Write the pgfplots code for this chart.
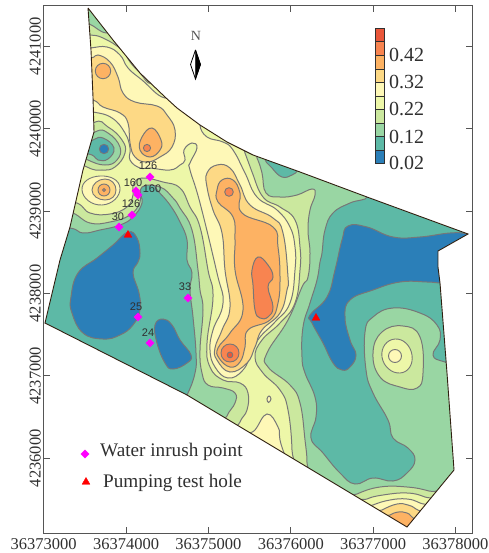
\documentclass[border=0pt]{standalone}
\usepackage{pgfplots}
\pgfplotsset{compat=1.18}
\usepackage{fontspec}
\setmainfont{Liberation Serif}
\newfontfamily\lab{Liberation Sans}
\definecolor{c0}{HTML}{2B7FB8}
\definecolor{c1}{HTML}{5DB9A6}
\definecolor{c2}{HTML}{99D6A3}
\definecolor{c3}{HTML}{CBE89E}
\definecolor{c4}{HTML}{EDF7A8}
\definecolor{c5}{HTML}{FEF8B7}
\definecolor{c6}{HTML}{FDD985}
\definecolor{c7}{HTML}{FDB263}
\definecolor{c8}{HTML}{F88450}
\definecolor{c9}{HTML}{E9563A}
\definecolor{cl}{HTML}{777777}
\definecolor{fr}{HTML}{555555}
\definecolor{tx}{HTML}{303030}
\definecolor{mg}{HTML}{FF00FF}
\definecolor{rd}{HTML}{FF0000}
\newcommand\reg[2]{\addplot[smooth cycle,tension=0.75,mark=none,fill=#1,draw=cl,line width=1pt] coordinates {#2};}
\newcommand\ring[2]{\addplot[smooth cycle,tension=1,mark=none,fill=#1,draw=cl,line width=0.9pt] coordinates {#2};}
\newcommand\cell[3]{\addplot[mark=none,fill=#1,draw=tx,line width=0.7pt] coordinates {(375.3,#2) (384,#2) (384,#3) (375.3,#3) (375.3,#2)};}
\begin{document}
\begin{tikzpicture}
\useasboundingbox (-43.3pt,-19.7pt) rectangle (444.7pt,533.3pt);
% grid of the digitised map: 82.35 units = 1000 m
\begin{axis}[at={(0,0)},anchor=south west,scale only axis,width=429pt,height=528pt,
 xmin=43.3,xmax=472.3,ymin=5.3,ymax=533.3,y dir=reverse,axis on top,
 axis line style={fr,line width=1pt},
 tick style={fr,line width=0.8pt},tick align=inside,major tick length=6.5pt,
 xtick={43.7,126.05,208.4,290.75,373.1,455.45},
 xticklabels={36373000,36374000,36375000,36376000,36377000,36378000},
 ytick={46.3,128.7,211,293.4,375.8,458.2},
 yticklabels={4241000,4240000,4239000,4238000,4237000,4236000},
 tick label style={font=\fontsize{16.5}{18}\selectfont,text=tx},
 xticklabel style={yshift=-1.5pt},
 yticklabel style={rotate=90,anchor=south,yshift=-1pt},
 clip=true]
% base
\addplot[mark=none,fill=c2,draw=none] coordinates {(43.3,5.3) (472.3,5.3) (472.3,533.3) (43.3,533.3) (43.3,5.3)};
% west low
\reg{c1}{(70,228) (83,233) (100,230) (120,225) (133,217) (142,203) (140,190) (150,182) (158,191) (170,205) (180,222) (187,240) (187,260) (192,273) (190,290) (193,317) (196,353) (195,373) (187,395) (175,415) (30,345) (35,225)}
\reg{c0}{(128,232) (137,238) (140,253) (138,262) (133,273) (139,293) (140,310) (133,325) (120,335) (103,339) (83,333) (72,313) (71,297) (78,273) (97,258) (113,245)}
\reg{c0}{(163,319) (155,325) (157,343) (165,363) (173,369) (187,363) (191,355) (180,340) (172,325)}
% east low
\reg{c1}{(355,185) (367,197) (350,203) (333,213) (325,230) (322,253) (320,262) (317,280) (310,303) (303,327) (302,357) (305,373) (315,397) (316,417) (311,438) (323,453) (340,473) (355,484) (373,478) (393,481) (407,473) (415,460) (408,448) (393,438) (388,420) (373,393) (366,370) (365,332) (373,317) (393,308) (420,313) (437,325) (440,340) (433,355) (445,362) (475,368) (485,235) (420,195)}
\reg{c0}{(348,226) (367,227) (393,237) (420,237) (450,233) (468,234) (490,240) (470,285) (440,283) (427,282) (400,282) (373,290) (350,300) (345,317) (350,340) (356,355) (350,367) (342,370) (333,363) (323,343) (312,323) (310,315) (327,297) (335,270) (342,240)}
\reg{c1}{(266,158) (272,168) (282,177) (292,175) (298,170) (303,160) (285,152)}
% lower-green and above
\reg{c3}{(70,20) (89,24) (107,33) (125,25) (200,100) (250,145) (257,158) (262,173) (266,193) (280,197) (297,195) (312,189) (315,195) (310,210) (308,230) (310,253) (308,277) (302,287) (288,320) (267,353) (268,367) (290,385) (300,403) (305,440) (307,463) (305,480) (225,430) (227,416) (235,403) (235,393) (223,388) (208,385) (202,373) (200,350) (203,310) (200,290) (198,270) (192,230) (180,208) (173,198) (160,187) (142,187) (140,202) (130,215) (110,222) (90,223) (73,213) (50,205) (60,120)}
\reg{c4}{(70,35) (89,35) (103,38) (122,50) (130,62) (140,73) (152,84) (170,75) (235,130) (245,153) (252,172) (263,197) (280,207) (295,220) (300,247) (300,270) (295,303) (280,323) (262,340) (255,357) (263,373) (280,390) (288,410) (292,450) (290,470) (235,440) (240,422) (247,410) (248,393) (240,383) (223,380) (210,367) (207,343) (213,297) (208,270) (200,227) (190,207) (180,188) (163,182) (142,178) (133,185) (133,195) (127,207) (110,214) (90,213) (77,203) (50,195) (60,120)}
\reg{c5}{(90,48) (107,47) (120,55) (128,68) (142,80) (165,98) (182,88) (205,115) (200,125) (207,137) (223,142) (233,150) (245,173) (257,197) (277,210) (290,227) (295,247) (295,270) (290,303) (275,322) (260,337) (253,350) (243,370) (228,378) (215,367) (210,350) (213,330) (223,303) (217,273) (200,203) (190,170) (190,163) (197,148) (192,143) (184,150) (185,160) (180,165) (170,170) (150,168) (140,168) (130,160) (130,148) (125,133) (112,118) (93,112) (70,110) (70,50)}
% north high
\reg{c6}{(91,58) (98,55) (110,62) (118,77) (123,93) (135,102) (157,106) (167,115) (175,130) (172,147) (160,157) (147,162) (135,157) (130,143) (128,123) (120,113) (103,107) (93,100) (70,95) (70,60)}
\ring{c7}{(103,63.3) (110.7,71) (103,78.7) (95.3,71)}
\reg{c7}{(152,128) (161,140) (160,150) (150,157) (140,150) (142,137)}
\ring{c8}{(147,144.4) (150.6,148) (147,151.6) (143.4,148)}
% central high
\reg{c6}{(207,173) (217,165) (230,168) (240,185) (250,205) (273,218) (283,233) (288,277) (287,290) (280,313) (262,330) (255,347) (247,363) (230,372) (217,360) (215,348) (222,330) (230,307) (225,270) (222,233) (213,210) (207,187)}
\reg{c7}{(217,190) (222,180) (233,180) (240,193) (242,213) (273,227) (278,247) (280,277) (278,303) (270,320) (248,330) (245,347) (240,362) (230,367) (219,358) (218,348) (230,333) (243,310) (235,270) (235,240) (233,217) (218,202)}
\reg{c8}{(258,257) (268,265) (273,277) (268,287) (273,307) (268,317) (260,318) (255,310) (253,285) (252,270)}
\ring{c8}{(229,187.7) (233.3,192) (229,196.3) (224.7,192)}
\ring{c8}{(230,344) (239,353) (230,362) (221,353)}
\ring{c9}{(230,352) (232.8,355) (230,357.8) (227.2,355)}
% north-west low
\reg{c3}{(93,123) (108,127) (122,140) (125,153) (115,167) (102,170) (87,167) (60,150)}
\reg{c2}{(95,132) (108,133) (120,147) (117,160) (105,165) (88,160) (72,150)}
\reg{c1}{(93,140) (103,138) (114,148) (108,159) (98,160) (92,155) (76,150)}
\ring{c0}{(104,144.3) (108.7,149) (104,153.7) (99.3,149)}
% west high
\ring{c5}{(82,190) (100,176) (120,188) (102,205)}
\ring{c6}{(92,190) (105,179) (116,190) (105,200)}
\ring{c7}{(104,184) (110,190) (104,196) (98,190)}
\ring{c8}{(104,188.5) (105.5,190) (104,191.5) (102.5,190)}
% south
\reg{c5}{(255,430) (267,414) (278,427) (280,440) (285,470) (245,440)}
\reg{c5}{(269,396) (271,399) (268.5,402.5) (267,399)}
% south tip
\reg{c3}{(350,500) (357,494) (380,487) (407,487) (429,491) (445,497) (410,545)}
\reg{c4}{(360,505) (367,499) (383,495) (407,493) (425,497) (440,505) (410,545)}
\reg{c5}{(365,510) (373,505) (390,500) (407,499) (420,503) (437,512) (410,545)}
\reg{c6}{(375,515) (382,510) (397,504) (408,505) (416,509) (430,520) (410,545)}
\reg{c7}{(382,520) (390,515) (398,512) (407,513) (412,517) (425,530) (408,545)}
% east hill
\reg{c3}{(403,326) (420,337) (423,373) (417,388) (400,387) (380,377) (373,353) (382,332)}
\ring{c4}{(395,339) (412,355) (400,373) (382,357)}
\ring{c5}{(395,349.5) (401.5,356) (395,362.5) (388.5,356)}
% area outside the map
\addplot[mark=none,fill=white,draw=none,even odd rule] coordinates {(40,2) (476,2) (476,537) (40,537) (40,2) (88,8) (113,40) (140,73) (165,97) (177,108) (200,125) (227,142) (253,155) (300,172) (367,197) (468,234) (438,251) (438,267) (440,283) (447,373) (454,470) (407,527) (187,395) (45,323) (60,260) (70,227) (83,170) (94,132) (93,97) (91,50) (88,8) (40,2)};
\addplot[mark=none,draw=black!75!brown,line width=0.9pt] coordinates {(88,8) (113,40) (140,73) (165,97) (177,108) (200,125) (227,142) (253,155) (300,172) (367,197) (468,234) (438,251) (438,267) (440,283) (447,373) (454,470) (407,527) (187,395) (45,323) (60,260) (70,227) (83,170) (94,132) (93,97) (91,50) (88,8)};
% colour bar
\cell{c9}{28.3}{41.84}\cell{c8}{41.84}{55.38}\cell{c7}{55.38}{68.92}\cell{c6}{68.92}{82.46}\cell{c5}{82.46}{96}\cell{c4}{96}{109.54}\cell{c3}{109.54}{123.08}\cell{c2}{123.08}{136.62}\cell{c1}{136.62}{150.16}\cell{c0}{150.16}{163.7}
% north arrow
\addplot[mark=none,fill=white,draw=black,line width=0.8pt] coordinates {(195.5,50) (190.5,64.5) (195.5,79) (200.5,64.5) (195.5,50)};
\addplot[mark=none,fill=black,draw=black,line width=0.5pt] coordinates {(195.5,50) (200.5,64.5) (195.5,79) (195.5,50)};
% observations
\addplot[only marks,mark=square*,mark size=2.9pt,color=mg,mark options={rotate=45,fill=mg,draw=mg}] coordinates {(150,177) (136,191) (138,195) (132,215) (119,227) (138,317) (150,343) (188,298) (85,454)};
\addplot[only marks,mark=triangle*,mark size=4.5pt,color=rd,mark options={fill=rd,draw=rd}] coordinates {(128,235) (316,318) (86,482)};
\addplot[mark=none,draw=black,line width=0.7pt] coordinates {(132,190.5) (135,190.5)};
\addplot[mark=none,draw=black,line width=0.7pt] coordinates {(137,195.5) (141,195.5)};
\node[font=\lab\fontsize{11}{12}\selectfont,text=tx] at (axis cs:148,166) {126};
\node[font=\lab\fontsize{11}{12}\selectfont,text=tx] at (axis cs:133,183) {160};
\node[font=\lab\fontsize{11}{12}\selectfont,text=tx] at (axis cs:152,189) {160};
\node[font=\lab\fontsize{11}{12}\selectfont,text=tx] at (axis cs:131,204) {126};
\node[font=\lab\fontsize{11}{12}\selectfont,text=tx] at (axis cs:118,217) {30};
\node[font=\lab\fontsize{11}{12}\selectfont,text=tx] at (axis cs:136,307) {25};
\node[font=\lab\fontsize{11}{12}\selectfont,text=tx] at (axis cs:148,333) {24};
\node[font=\lab\fontsize{11}{12}\selectfont,text=tx] at (axis cs:185,287) {33};
\node[font=\fontsize{19.2}{21}\selectfont,text=tx,anchor=west,inner sep=0pt] at (axis cs:100,452) {Water inrush point};
\node[font=\fontsize{19.2}{21}\selectfont,text=tx,anchor=west,inner sep=0pt] at (axis cs:103,483) {Pumping test hole};
\node[font=\fontsize{14}{16}\selectfont,text=fr] at (axis cs:196,36) {N};
\foreach \v/\y in {0.42/55,0.32/82.3,0.22/109.3,0.12/136.7,0.02/163.3}{
 \edef\temp{\noexpand\node[font=\noexpand\fontsize{20}{22}\noexpand\selectfont,text=tx,anchor=west,inner sep=0pt] at (axis cs:389,\y) {\v};}\temp}
\end{axis}
\end{tikzpicture}
\end{document}
